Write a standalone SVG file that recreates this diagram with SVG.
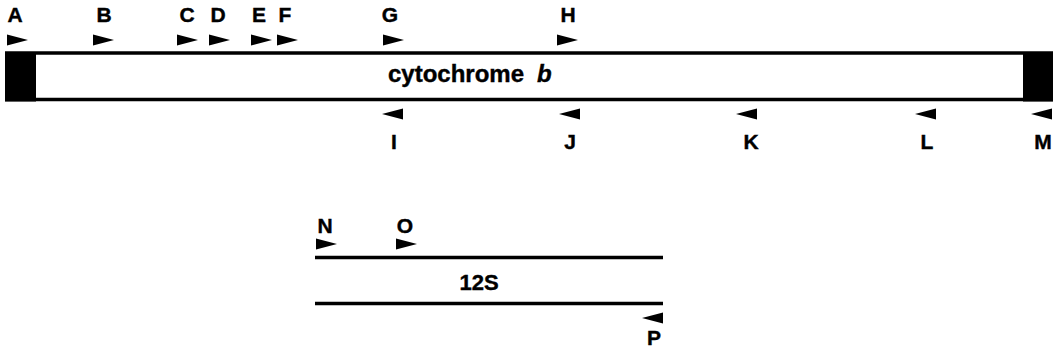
<svg xmlns="http://www.w3.org/2000/svg" width="1061" height="354" viewBox="0 0 1061 354">
<style>
.lbl{font-family:"Liberation Sans",Arial,sans-serif;font-weight:bold;font-size:21px;fill:#000;stroke:#000;stroke-width:0.4;text-anchor:middle}
.ln{stroke:#000;stroke-width:3.5;fill:none}
</style>
<defs>
<polygon id="fwd" points="0,-5.5 21,0 0,5.5"/>
<polygon id="rev" points="21,-5.5 0,0 21,5.5"/>
</defs>
<rect width="1061" height="354" fill="#fff"/>
<g id="connectors">
<line class="ln" x1="5" y1="53" x2="1053" y2="53"/>
<line class="ln" x1="5" y1="99.5" x2="1053" y2="99.5"/>
<line class="ln" x1="315" y1="257.5" x2="663" y2="257.5"/>
<line class="ln" x1="315" y1="303.5" x2="663" y2="303.5"/>
</g>
<g id="cytb">
<rect x="5" y="52" width="31" height="49.5" fill="#000"/>
<rect x="1023" y="52" width="30" height="49.5" fill="#000"/>
<text class="lbl" x="388" y="82" style="font-size:24px;text-anchor:start">cytochrome<tspan dx="13" font-style="italic">b</tspan></text>
</g>
<g id="s12">
<text class="lbl" x="479" y="290" style="font-size:22px">12S</text>
</g>
<g id="primerA"><use href="#fwd" x="7" y="40"/><text class="lbl" x="15" y="22">A</text></g>
<g id="primerB"><use href="#fwd" x="93" y="40"/><text class="lbl" x="104" y="22">B</text></g>
<g id="primerC"><use href="#fwd" x="177" y="40"/><text class="lbl" x="187" y="22">C</text></g>
<g id="primerD"><use href="#fwd" x="209" y="40"/><text class="lbl" x="218" y="22">D</text></g>
<g id="primerE"><use href="#fwd" x="251" y="40"/><text class="lbl" x="259" y="22">E</text></g>
<g id="primerF"><use href="#fwd" x="277" y="40"/><text class="lbl" x="285" y="22">F</text></g>
<g id="primerG"><use href="#fwd" x="383" y="40"/><text class="lbl" x="390" y="22">G</text></g>
<g id="primerH"><use href="#fwd" x="557" y="40"/><text class="lbl" x="568" y="22">H</text></g>
<g id="primerI"><use href="#rev" x="382" y="114"/><text class="lbl" x="394" y="149">I</text></g>
<g id="primerJ"><use href="#rev" x="559" y="114"/><text class="lbl" x="570" y="149">J</text></g>
<g id="primerK"><use href="#rev" x="736" y="114"/><text class="lbl" x="751" y="149">K</text></g>
<g id="primerL"><use href="#rev" x="915" y="114"/><text class="lbl" x="927" y="149">L</text></g>
<g id="primerM"><use href="#rev" x="1031" y="114"/><text class="lbl" x="1043" y="149">M</text></g>
<g id="primerN"><use href="#fwd" x="316" y="244"/><text class="lbl" x="325" y="233">N</text></g>
<g id="primerO"><use href="#fwd" x="396" y="244"/><text class="lbl" x="405" y="233">O</text></g>
<g id="primerP"><use href="#rev" x="642" y="318"/><text class="lbl" x="654" y="345">P</text></g>
</svg>
